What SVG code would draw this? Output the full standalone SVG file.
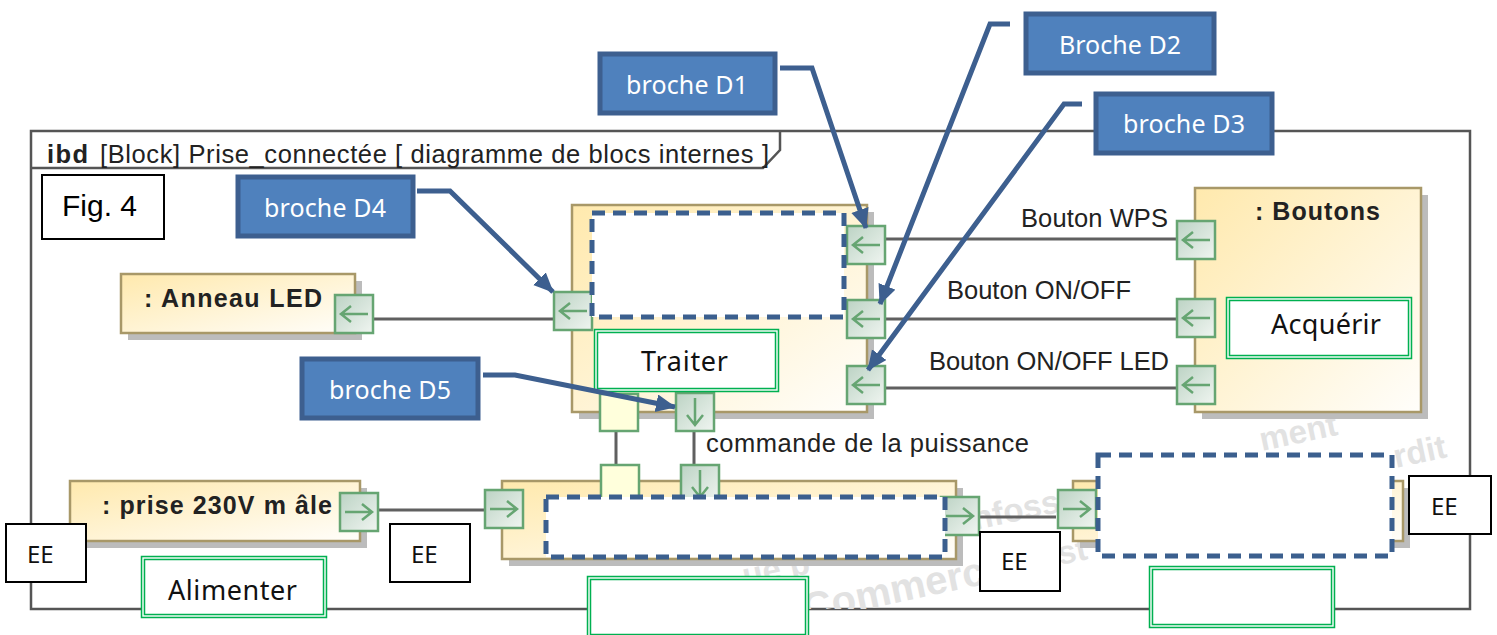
<svg xmlns="http://www.w3.org/2000/svg" width="1497" height="635" viewBox="0 0 1497 635">
<style>
.uml{font-family:"Liberation Sans",Arial,sans-serif;fill:#222;font-size:25.5px}
.b{font-weight:bold;font-size:25px}
.ms{font-family:"Noto Sans","Open Sans",sans-serif;font-size:27px;fill:#111}
.ee{font-family:"Noto Sans","Open Sans",sans-serif;font-size:24px;fill:#111}
.call{font-family:"Noto Sans","Open Sans",sans-serif;font-size:25px;fill:#fff;text-anchor:middle}
.mark{font-family:"Liberation Sans",sans-serif;font-weight:bold;font-size:33px;fill:#e2e2e2}
.block{stroke:#a89868;stroke-width:2.5;fill:url(#bg)}
.shadow{fill:#bcbcbc}
.port{fill:url(#pg);stroke:#66a572;stroke-width:2.5}
.porty{fill:#ffffdc;stroke:#66a572;stroke-width:2.5}
.arr{fill:none;stroke:#66a572;stroke-width:2.5}
.con{fill:none;stroke:#606060;stroke-width:3}
.dash{fill:#fff;stroke:#3b5f8e;stroke-width:5;stroke-dasharray:13 8}
.green{fill:#fff;stroke:#00b050;stroke-width:4.5}
.greeni{fill:none;stroke:#fff;stroke-width:1.4}
.box{fill:#fff;stroke:#000;stroke-width:2}
.blue{fill:#4f81bd;stroke:#3d5f8f;stroke-width:5}
.lead{fill:none;stroke:#3d5f8f;stroke-width:5}
</style>
<defs>
<linearGradient id="bg" x1="0" y1="0" x2="1" y2="1"><stop offset="0" stop-color="#ffe9ad"/><stop offset="1" stop-color="#fffefb"/></linearGradient>
<linearGradient id="pg" x1="0" y1="0" x2="1" y2="1"><stop offset="0" stop-color="#bcd3c4"/><stop offset="1" stop-color="#f0f5f1"/></linearGradient>
<clipPath id="fc"><rect x="31" y="131" width="1439" height="478"/></clipPath>
<marker id="ah" markerUnits="userSpaceOnUse" markerWidth="24" markerHeight="20" refX="19" refY="9" orient="auto"><path d="M0 0L20 9L0 18z" fill="#3d5f8f"/></marker>
<g id="pl"><rect class="port" x="-19" y="-19" width="38" height="38"/><path class="arr" d="M14 0H-13M-3-8L-13 0L-3 8"/></g>
<g id="pr"><rect class="port" x="-19" y="-19" width="38" height="38"/><path class="arr" d="M-14 0H13M3-8L13 0L3 8"/></g>
<g id="pd"><rect class="port" x="-19" y="-19" width="38" height="38"/><path class="arr" d="M0-14V13M-8 3L0 13L8 3"/></g>
</defs>
<rect width="1497" height="635" fill="#fff"/>
<g id="frame">
<rect x="31" y="131" width="1439" height="478" fill="#fff" stroke="#555" stroke-width="2.5"/>
<path d="M31 168H763L780 150V131" fill="none" stroke="#555" stroke-width="2.5"/>
<text class="uml" x="47" y="163" font-weight="bold" textLength="41">ibd</text>
<text class="uml" x="100" y="163" textLength="669">[Block] Prise_connectée [ diagramme de blocs internes ]</text>
</g>
<g id="watermark" clip-path="url(#fc)">
<text class="mark" transform="rotate(-12 1262 451)" x="1262" y="451">ment</text>
<text class="mark" transform="rotate(-12 1396 468)" x="1396" y="468">rdit</text>
<text class="mark" transform="rotate(-12 975 530)" x="975" y="530">nfoss</text>
<text class="mark" transform="rotate(-12 1060 565)" x="1060" y="565">st</text>
<text class="mark" transform="rotate(-12 745 587)" x="745" y="587">ue p</text>
<text class="mark" transform="rotate(-12 806 622)" x="806" y="622" style="font-size:40px">Commerc</text>
</g>
<g id="connectors">
<path class="con" d="M373 319H555M885 239H1177M885 319H1177M885 388H1177M378 510H485M979 517H1056M616 431V466M694 431V466"/>
</g>
<g id="anneau"><rect class="shadow" x="128" y="281" width="234" height="59"/><rect class="block" x="121" y="274" width="234" height="59"/><text class="uml b" x="144" y="307" textLength="178">: Anneau LED</text><use href="#pl" x="354" y="314"/></g>
<g id="central"><rect class="shadow" x="579" y="212" width="295" height="207"/><rect class="block" x="572" y="205" width="295" height="207"/>
<use href="#pl" x="573" y="311"/><use href="#pl" x="866" y="245"/><use href="#pl" x="866" y="319"/><use href="#pl" x="866" y="385"/>
<rect class="porty" x="600" y="394" width="38" height="37"/><use href="#pd" x="695" y="412"/></g>
<g id="boutons"><rect class="shadow" x="1202" y="195" width="226" height="224"/><rect class="block" x="1195" y="188" width="226" height="224"/><text class="uml b" x="1255" y="220" textLength="125">: Boutons</text><use href="#pl" x="1196" y="240"/><use href="#pl" x="1196" y="318"/><use href="#pl" x="1196" y="385"/></g>
<g id="prise"><rect class="shadow" x="77" y="488" width="290" height="60"/><rect class="block" x="70" y="481" width="290" height="60"/><text class="uml b" x="102" y="514" textLength="230">: prise 230V m âle</text><use href="#pr" x="359" y="512"/></g>
<g id="alim"><rect class="shadow" x="509" y="488" width="454" height="78"/><rect class="block" x="502" y="481" width="454" height="78"/><rect class="porty" x="601" y="465" width="38" height="38"/><use href="#pd" x="700" y="484"/><use href="#pr" x="504" y="509"/><use href="#pr" x="960" y="516"/></g>
<g id="charge"><rect class="shadow" x="1080" y="488" width="330" height="60"/><rect class="block" x="1073" y="481" width="330" height="60"/><use href="#pr" x="1077" y="509"/></g>
<g id="dashed"><rect class="dash" x="592" y="213" width="252" height="104"/><rect class="dash" x="546" y="497" width="399" height="60"/><rect class="dash" x="1098" y="455" width="294" height="101"/></g>
<g id="fonctions">
<g id="traiter"><rect class="green" x="596" y="331" width="181" height="59"/><rect class="greeni" x="596" y="331" width="181" height="59"/><text class="ms" x="641" y="371" textLength="87">Traiter</text></g>
<g id="acquerir"><rect class="green" x="1228" y="299" width="182" height="58"/><rect class="greeni" x="1228" y="299" width="182" height="58"/><text class="ms" x="1271" y="334" textLength="110">Acquérir</text></g>
<g id="alimenter"><rect class="green" x="143" y="558" width="182" height="58"/><rect class="greeni" x="143" y="558" width="182" height="58"/><text class="ms" x="168" y="600" textLength="129">Alimenter</text></g>
<g id="vide1"><rect class="green" x="589" y="578" width="218" height="58"/><rect class="greeni" x="589" y="578" width="218" height="58"/></g>
<g id="vide2"><rect class="green" x="1151" y="568" width="182" height="58"/><rect class="greeni" x="1151" y="568" width="182" height="58"/></g>
</g>
<g id="labels">
<text class="uml" x="1021" y="227" textLength="147">Bouton WPS</text>
<text class="uml" x="947" y="299" textLength="184">Bouton ON/OFF</text>
<text class="uml" x="929" y="370" textLength="240">Bouton ON/OFF LED</text>
<text class="uml" x="706" y="452" textLength="323">commande de la puissance</text>
</g>
<g id="ee"><rect class="box" x="6" y="524" width="80" height="58"/><text class="ee" x="27" y="563">EE</text>
<rect class="box" x="390" y="524" width="80" height="58"/><text class="ee" x="411" y="563">EE</text>
<rect class="box" x="980" y="532" width="80" height="59"/><text class="ee" x="1001" y="570">EE</text>
<rect class="box" x="1409" y="476" width="82" height="58"/><text class="ee" x="1431" y="515">EE</text></g>
<g id="fig"><rect class="box" x="42" y="175" width="122" height="64"/><text x="62" y="216" font-family="Liberation Sans,sans-serif" font-size="30" fill="#000">Fig. 4</text></g>
<g id="callouts">
<path class="lead" marker-end="url(#ah)" d="M780 68H812L866 228"/>
<path class="lead" marker-end="url(#ah)" d="M1010 24H990L880 304"/>
<path class="lead" marker-end="url(#ah)" d="M1082 104H1064L868 370"/>
<path class="lead" marker-end="url(#ah)" d="M417 191H450L553 292"/>
<path class="lead" marker-end="url(#ah)" d="M483 375H515L675 407"/>
<g id="d1"><rect class="blue" x="600" y="54" width="175" height="59"/><text class="call" x="687" y="94" textLength="122">broche D1</text></g>
<g id="d2"><rect class="blue" x="1026" y="14" width="188" height="59"/><text class="call" x="1120" y="54" textLength="122">Broche D2</text></g>
<g id="d3"><rect class="blue" x="1096" y="94" width="176" height="59"/><text class="call" x="1184" y="133" textLength="122">broche D3</text></g>
<g id="d4"><rect class="blue" x="238" y="177" width="175" height="59"/><text class="call" x="325" y="217" textLength="122">broche D4</text></g>
<g id="d5"><rect class="blue" x="302" y="359" width="176" height="59"/><text class="call" x="390" y="399" textLength="122">broche D5</text></g>
</g>
</svg>
